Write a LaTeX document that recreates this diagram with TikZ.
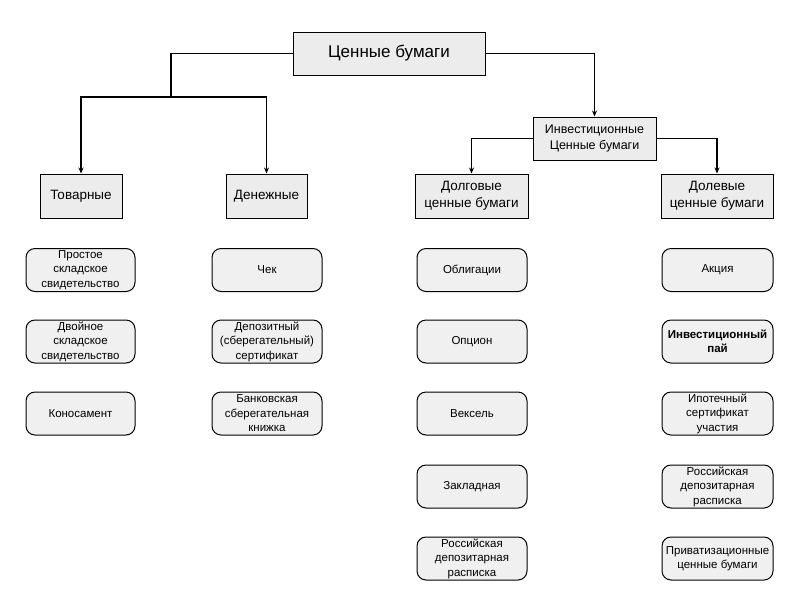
\documentclass[tikz,border=0pt]{standalone}
\usepackage{fontspec}
\setmainfont{Liberation Sans}
\usetikzlibrary{arrows.meta,shadows}
\begin{document}
\begin{tikzpicture}[x=1pt,y=-1pt,
  catbox/.style={draw=black,line width=1pt,fill=gray!15,rectangle,inner sep=1pt,align=center,font=\fontsize{13.5}{17}\selectfont,
    drop shadow={shadow xshift=1pt,shadow yshift=-1pt,fill=gray!70,opacity=1}},
  itembox/.style={draw=black,line width=1pt,fill=gray!12,rounded corners=9pt,inner sep=1pt,align=center,
    minimum width=110pt,minimum height=43pt,font=\fontsize{11.5}{14.5}\selectfont},
  conn/.style={line width=1.1pt,draw=black},
  arr/.style={conn,-{Stealth[length=6pt,width=5pt]}}]
\useasboundingbox (0,0) rectangle (800,600);
% category boxes
\node[catbox,minimum width=192pt,minimum height=43pt,font=\fontsize{17}{20}\selectfont] (top) at (389,53.5) {Ценные бумаги};
\node[catbox,minimum width=82pt,minimum height=44pt] (tov) at (81,196) {Товарные};
\node[catbox,minimum width=81pt,minimum height=44pt] (den) at (266.5,196) {Денежные};
\node[catbox,minimum width=123pt,minimum height=43pt,font=\fontsize{12.5}{16}\selectfont] (inv) at (594.5,138.5) {Инвестиционные\\Ценные бумаги};
\node[catbox,minimum width=113pt,minimum height=44pt] (dolg) at (471.5,196) {Долговые\\ценные бумаги};
\node[catbox,minimum width=112pt,minimum height=44pt] (dolev) at (717,196) {Долевые\\ценные бумаги};
% connectors
\coordinate (jL) at (171,97);
\draw[conn] (top.west) -| (jL);
\draw[arr] (jL) -| (tov.north);
\draw[arr] (jL) -| (den.north);
\draw[arr] (top.east) -| (inv.north);
\draw[arr] (inv.west) -| (dolg.north);
\draw[arr] (inv.east) -| (dolev.north);
% column 1
\node[itembox,minimum width=109pt] (a1) at (80.5,270) {Простое\\складское\\свидетельство};
\node[itembox,minimum width=109pt] (a2) at (80.5,341.5) {Двойное\\складское\\свидетельство};
\node[itembox,minimum width=109pt] (a3) at (80.5,413.5) {Коносамент};
% column 2
\node[itembox] (b1) at (267,270) {Чек};
\node[itembox] (b2) at (267,341.5) {Депозитный\\(сберегательный)\\сертификат};
\node[itembox] (b3) at (267,413.5) {Банковская\\сберегательная\\книжка};
% column 3
\node[itembox] (c1) at (472,270) {Облигации};
\node[itembox] (c2) at (472,341.5) {Опцион};
\node[itembox] (c3) at (472,413.5) {Вексель};
\node[itembox] (c4) at (472,486.5) {Закладная};
\node[itembox] (c5) at (472,558.5) {Российская\\депозитарная\\расписка};
% column 4
\node[itembox,minimum width=111pt] (d1) at (717.5,270) {Акция};
\node[itembox,minimum width=111pt,font=\fontsize{11.5}{14.5}\selectfont\bfseries] (d2) at (717.5,341.5) {Инвестиционный\\пай};
\node[itembox,minimum width=111pt] (d3) at (717.5,413.5) {Ипотечный\\сертификат\\участия};
\node[itembox,minimum width=111pt] (d4) at (717.5,486.5) {Российская\\депозитарная\\расписка};
\node[itembox,minimum width=111pt] (d5) at (717.5,558.5) {Приватизационные\\ценные бумаги};
\end{tikzpicture}
\end{document}
